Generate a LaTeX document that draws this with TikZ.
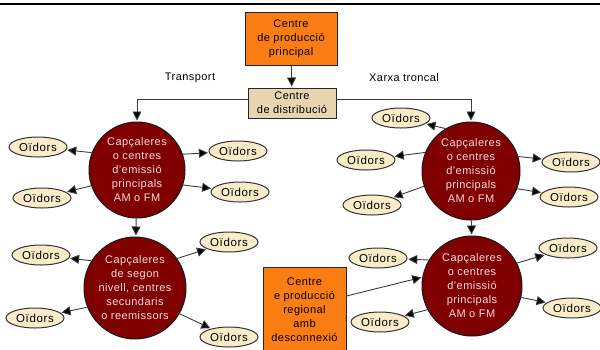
\documentclass[tikz,border=0pt]{standalone}
\usepackage{fontspec}
\setmainfont{Liberation Sans}
\usetikzlibrary{arrows.meta,shapes.geometric}

\definecolor{prodorange}{RGB}{250,125,20}
\definecolor{disttan}{RGB}{232,212,176}
\definecolor{hubred}{RGB}{128,0,0}
\definecolor{hubtext}{RGB}{245,218,218}
\definecolor{earcream}{RGB}{250,236,200}
\definecolor{linegray}{RGB}{60,60,60}

\tikzset{
  txt/.style={font=\fontsize{11}{14}\selectfont\addfontfeatures{LetterSpace=4}, align=center, inner sep=0pt},
  prodbox/.style={txt, draw=black!85, line width=1pt, fill=prodorange},
  distbox/.style={txt, draw=black!85, line width=1pt, fill=disttan},
  hub/.style={txt, circle, draw=black!90, line width=1pt, fill=hubred,
    text=hubtext, inner sep=0pt},
  ear/.style={ellipse, draw=black!80, line width=1pt, fill=earcream,
    minimum width=58pt, minimum height=20pt, inner sep=0pt,
    font=\fontsize{11.5}{13}\selectfont\addfontfeatures{LetterSpace=6}},
  arr/.style={draw=linegray, line width=0.9pt,
    -{Triangle[length=9pt,width=9pt,fill=black]}, shorten >=1pt},
}

\begin{document}
\begin{tikzpicture}[x=1pt,y=-1pt]
  \useasboundingbox (0,0) rectangle (600,349);
  \clip (0,0) rectangle (600,349);

  % rule across the top
  \draw[line width=2pt] (0,4) -- (600,4);

  % production and distribution centres
  \node[prodbox, minimum width=92pt, minimum height=53pt] (prod) at (291,38.5)
    {Centre\\de producció\\principal};
  \node[distbox, minimum width=88pt, minimum height=30pt] (dist) at (292,103)
    {Centre\\de distribució};

  \node[txt] (ltransp) at (190,78) {Transport};
  \node[txt] (lxarxa) at (404,78) {Xarxa troncal};

  % broadcasting hubs
  \node[hub, minimum size=96pt] (c1) at (137,170)
    {Capçaleres\\o centres\\d'emissió\\principals\\AM o FM};
  \node[hub, minimum size=98pt] (c2) at (471,171)
    {Capçaleres\\o centres\\d'emissió\\principals\\AM o FM};
  \node[hub, minimum size=102pt] (c3) at (135,288)
    {Capçaleres\\de segon\\nivell, centres\\secundaris\\o reemissors};
  \node[hub, minimum size=100pt] (c4) at (472,286)
    {Capçaleres\\o centres\\d'emissió\\principals\\AM o FM};

  % regional production centre
  \node[prodbox, minimum width=83pt, minimum height=86pt] (reg) at (304.5,310)
    {Centre\\e producció\\regional\\amb\\desconnexió};

  % listeners
  \node[ear] (e11) at (38,147) {Oïdors};
  \node[ear] (e12) at (42,198) {Oïdors};
  \node[ear] (e13) at (238,151) {Oïdors};
  \node[ear] (e14) at (240,192) {Oïdors};

  \node[ear] (e21) at (401,118) {Oïdors};
  \node[ear] (e22) at (366,160) {Oïdors};
  \node[ear] (e23) at (372,205) {Oïdors};
  \node[ear] (e24) at (571,162) {Oïdors};
  \node[ear] (e25) at (569,197) {Oïdors};

  \node[ear] (e31) at (41,255) {Oïdors};
  \node[ear] (e32) at (35,318) {Oïdors};
  \node[ear] (e33) at (229,242) {Oïdors};
  \node[ear] (e34) at (229,337) {Oïdors};

  \node[ear] (e41) at (378,258) {Oïdors};
  \node[ear] (e42) at (380,322) {Oïdors};
  \node[ear] (e43) at (568,248) {Oïdors};
  \node[ear] (e44) at (572,308) {Oïdors};

  % trunk network
  \draw[arr] (prod) -- (dist);
  \draw[arr] ([yshift=4pt]dist.west) -| (c1);
  \draw[arr] ([yshift=4pt]dist.east) -| (c2);
  \draw[arr] (c1) -- (c3);
  \draw[arr] (c2) -- (c4);
  \draw[arr] ([yshift=14pt]reg.east) -- (c4.170);

  % hubs to listeners
  \draw[arr] (c1.159) -- (e11);
  \draw[arr] (c1.199) -- (e12);
  \draw[arr] (c1.19) -- (e13);
  \draw[arr] (c1.342) -- (e14);

  \draw[arr] (c2.121) -- (e21);
  \draw[arr] (c2.158) -- (e22);
  \draw[arr] (c2.198) -- (e23);
  \draw[arr] (c2.17) -- (e24);
  \draw[arr] (c2.339) -- (e25);

  \draw[arr] (c3.148) -- (e31);
  \draw[arr] (c3.202) -- (e32);
  \draw[arr] (c3.35) -- (e33);
  \draw[arr] (c3.330) -- (e34);

  \draw[arr] (c4.149) -- (e41);
  \draw[arr] (c4.208) -- (e42);
  \draw[arr] (c4.27) -- (e43);
  \draw[arr] (c4.347) -- (e44);
\end{tikzpicture}
\end{document}
